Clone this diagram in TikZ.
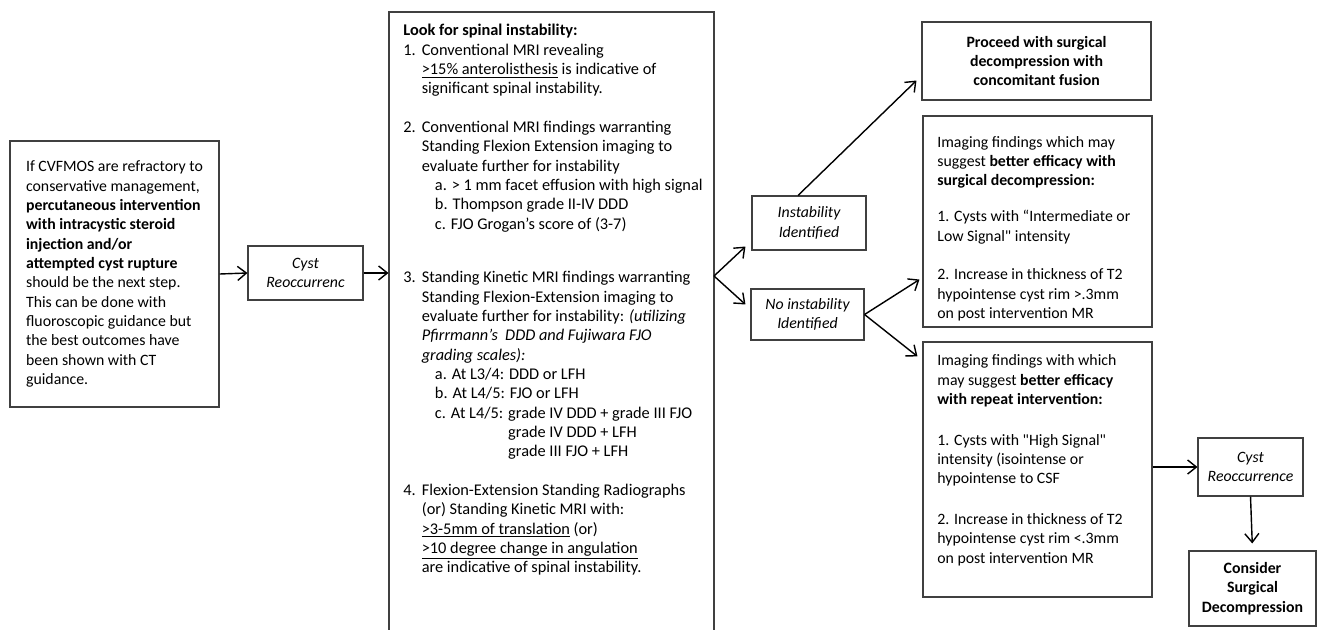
\documentclass[tikz,border=0pt]{standalone}
\usepackage{fontspec}
\setmainfont{Carlito}
\usetikzlibrary{arrows.meta, calc}
\newcommand{\pxu}{0.02cm}
\newcommand{\nlbl}[1]{\makebox[10.5pt][l]{#1}}
\newcommand{\hind}{\hspace*{10.5pt}}
\newcommand{\sind}{\hspace*{18pt}}

\begin{document}
\begin{tikzpicture}[
  x=\pxu, y=-\pxu,
  font=\fontsize{9}{11}\selectfont,
  box/.style={draw=black!75, line width=0.6pt, inner sep=0pt, align=center},
  txt/.style={inner sep=0pt, align=left, anchor=north west},
  arr/.style={-{Straight Barb[length=5pt,width=8pt]}, line width=0.8pt, black}
  ]
  \useasboundingbox (0,0) rectangle (1317,629);

  % first step
  \node[box, minimum width={209*\pxu}, minimum height={266*\pxu}, align=left] (refr) at (114.5,274)
  {If CVFMOS are refractory to\\ conservative management,\\ \textbf{percutaneous intervention}\\
    \textbf{with intracystic steroid}\\ \textbf{injection and/or}\\ \textbf{attempted cyst rupture}\\
    should be the next step.\\ This can be done with\\ fluoroscopic guidance but\\
    the best outcomes have\\ been shown with CT\\ guidance.};
  \node[box, minimum width={115*\pxu}, minimum height={54*\pxu}, font=\fontsize{9}{11}\selectfont\itshape] (cyst1) at (305.5,273) {Cyst\\ Reoccurrenc};

  % instability check
  \node[box, minimum width={325*\pxu}, minimum height={628*\pxu}] (spine) at (551.5,326) {};
  \node[txt, font=\fontsize{9.3}{11}\selectfont] (spinetxt) at (403,24) {\textbf{Look for spinal instability:}\\
    \nlbl{1.}Conventional MRI revealing\\
    \hind\underline{>15\% anterolisthesis} is indicative of\\
    \hind significant spinal instability.\\[11pt]
    \nlbl{2.}Conventional MRI findings warranting\\
    \hind Standing Flexion Extension imaging to\\
    \hind evaluate further for instability\\
    \sind a. > 1 mm facet effusion with high signal\\
    \sind b. Thompson grade II-IV DDD\\
    \sind c. FJO Grogan's score of (3-7)\\[19.6pt]
    \nlbl{3.}Standing Kinetic MRI findings warranting\\
    \hind Standing Flexion-Extension imaging to\\
    \hind evaluate further for instability: \textit{(utilizing}\\
    \hind\textit{Pfirrmann's~ DDD and Fujiwara FJO}\\
    \hind\textit{grading scales):}\\
    \sind a. At L3/4: DDD or LFH\\
    \sind b. At L4/5: FJO or LFH\\
    \sind c. At L4/5: grade IV DDD + grade III FJO\\
    \sind\phantom{c. At L4/5: }grade IV DDD + LFH\\
    \sind\phantom{c. At L4/5: }grade III FJO + LFH\\[11pt]
    \nlbl{4.}Flexion-Extension Standing Radiographs\\
    \hind(or) Standing Kinetic MRI with:\\
    \hind\underline{>3-5mm of translation} (or)\\
    \hind\underline{>10 degree change in angulation}\\
    \hind are indicative of spinal instability.};
  \coordinate (split) at (714,276);

  \node[box, minimum width={114*\pxu}, minimum height={54*\pxu}, font=\fontsize{9}{11}\selectfont\itshape] (inst) at (809,223) {Instability\\ Identified};
  \node[box, minimum width={113*\pxu}, minimum height={51*\pxu}, font=\fontsize{9}{11}\selectfont\itshape] (noinst) at (807.5,314.5) {No instability\\ Identified};

  % outcomes
  \node[box, minimum width={229*\pxu}, minimum height={78*\pxu}, font=\fontsize{9}{11}\selectfont\bfseries] (proceed) at (1036.5,61)
  {Proceed with surgical\\ decompression with\\ concomitant fusion};
  \node[box, minimum width={229*\pxu}, minimum height={211*\pxu}] (surg) at (1037.5,221.5) {};
  \node[txt] (surgtxt) at (937,136) {Imaging findings which may\\
    suggest \textbf{better efficacy with}\\
    \textbf{surgical decompression:}\\[9.4pt]
    1. Cysts with “Intermediate or\\
    Low Signal\textquotedbl{} intensity\\[11pt]
    2. Increase in thickness of T2\\
    hypointense cyst rim >.3mm\\
    on post intervention MR};
  \node[box, minimum width={229*\pxu}, minimum height={255*\pxu}] (reptbox) at (1037.5,469.5) {};
  \node[txt] (repttxt) at (937,354.5) {Imaging findings with which\\
    may suggest \textbf{better efficacy}\\
    \textbf{with repeat intervention:}\\[12.2pt]
    1. Cysts with \textquotedbl High Signal\textquotedbl\\
    intensity (isointense or\\
    hypointense to CSF\\[12.2pt]
    2. Increase in thickness of T2\\
    hypointense cyst rim <.3mm\\
    on post intervention MR};
  \node[box, minimum width={105*\pxu}, minimum height={58*\pxu}, font=\fontsize{9}{11}\selectfont\itshape] (cyst2) at (1250.5,467) {Cyst\\ Reoccurrence};
  \node[box, minimum width={127*\pxu}, minimum height={75*\pxu}, font=\fontsize{9}{11}\selectfont\bfseries] (consider) at (1252.5,588.5)
  {Consider\\ Surgical\\ Decompression};

  % connectors
  \draw[arr] (refr.east) -- (cyst1.west);
  \draw[arr] (cyst1.east) -- (cyst1.east -| spine.west);
  \draw[arr] (split) -- ($(inst.south west)+(-6,-4)$);
  \draw[arr] (split) -- ($(noinst.north west)+(-5,16)$);
  \draw[arr] ($(inst.north)+(-11,0)$) -- ($(proceed.south west)+(-5,-20)$);
  \draw[arr] (noinst.east) -- ($(surg.south west)+(-3,-48)$);
  \draw[arr] (noinst.east) -- ($(reptbox.north west)+(-5,15)$);
  \draw[arr] (cyst2.west -| reptbox.east) -- (cyst2.west);
  \draw[arr, shorten >=4pt] (cyst2.south) -- (consider.north);
\end{tikzpicture}
\end{document}
